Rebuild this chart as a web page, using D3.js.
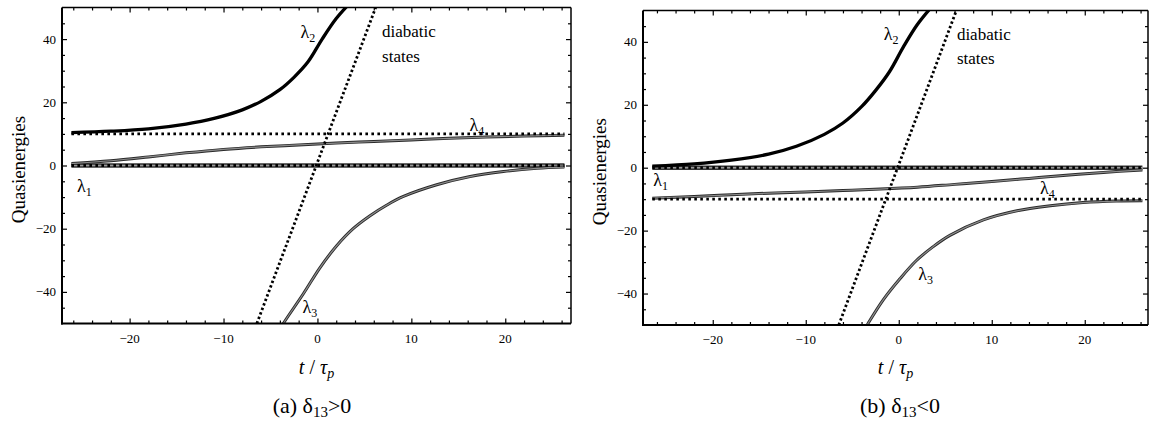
<!DOCTYPE html>
<html><head><meta charset="utf-8">
<script src="https://cdn.jsdelivr.net/npm/d3@7"></script>
</head>
<body style="margin:0">
<svg id="c" width="1154" height="427"></svg>
<script>
// ---------- DATA ----------
const xTicks = [-20, -10, 0, 10, 20];
const xMinor = [-26,-24,-22,-18,-16,-14,-12,-8,-6,-4,-2,2,4,6,8,12,14,16,18,22,24,26];
const yTicks = [-40, -20, 0, 20, 40];
const yMinor = [-45,-35,-30,-25,-15,-10,-5,5,10,15,25,30,35,45];

// Panel (a) delta13 > 0
const a_l2_t = [-26.2, -22, -18, -14, -11, -8, -6, -4, -2.5, -1, 0.5, 2, 3.4];
const a_l2_v = [10.4, 10.85, 11.6, 13.1, 14.9, 17.6, 20.3, 24.0, 27.9, 32.8, 40.0, 46.5, 51.2];
const a_l4_t = [-26.2, -22, -18, -14, -10, -6, -2, 2, 6, 10, 14, 18, 22, 26.3];
const a_l4_v = [0.6, 1.5, 2.7, 4.0, 5.1, 5.9, 6.5, 7.1, 7.6, 8.1, 8.6, 9.0, 9.3, 9.6];
const a_l3_t = [-4.0, -3.63, -1.5, 0.28, 2.05, 3.8, 5.6, 7.4, 9.15, 12.7, 16.25, 19.8, 23.35, 26.3];
const a_l3_v = [-52.0, -50, -40.6, -32.3, -25.4, -20.0, -15.9, -12.5, -9.8, -6.1, -3.5, -1.9, -0.9, -0.5];
const a_l1_t = [-26.2, 26.3];
const a_l1_v = [0, 0];
const a_diabLevels = [0, 10];
const a_tRange = [-26.2, 26.3];

// Panel (b) delta13 < 0
const b_l2_t = [-26.5, -22, -18, -14, -11, -8, -6, -4, -2.5, -1, 0.5, 2, 3.5];
const b_l2_v = [0.5, 1.2, 2.4, 4.3, 6.8, 10.6, 14.2, 19.4, 24.5, 30.5, 38.4, 45.5, 51.0];
const b_l4_t = [-26.5, -22, -18, -14, -10, -6, -2, 2, 6, 10, 14, 18, 22, 26.2];
const b_l4_v = [-9.7, -9.15, -8.6, -8.1, -7.7, -7.25, -6.8, -6.2, -5.3, -4.4, -3.4, -2.4, -1.5, -0.7];
const b_l3_t = [-3.7, -3.3, -1.67, 0.13, 1.9, 3.7, 5.5, 9.1, 12.7, 16.3, 19.8, 23.4, 26.2];
const b_l3_v = [-51.5, -49.5, -42, -35.3, -29.5, -25.1, -21.5, -16.6, -13.7, -12.1, -11.1, -10.6, -10.5];
const b_l1_t = [-26.5, 26.2];
const b_l1_v = [0, 0];
const b_diabLevels = [0, -10];
const b_tRange = [-26.5, 26.2];

// diabatic crossing state (diagonal), same in both panels
const diag_t = [-6.45, 6.2];
const diag_v = [-50, 50];

// Labels: [text, subscript, t, v]
const a_labels = [["λ","2",-1.8,40.4],["diabatic","",6.88,40.7],["states","",6.88,32.8],
                  ["λ","4",16.2,11.0],["λ","1",-25.6,-8.3],["λ","3",-1.6,-46.6]];
const b_labels = [["λ","2",-1.6,40.6],["diabatic","",6.25,40.6],["states","",6.25,33.0],
                  ["λ","1",-26.4,-5.8],["λ","4",15.2,-8.4],["λ","3",2.1,-35.7]];

const captions = [["(a) δ","13",">0"],["(b) δ","13","<0"]];

// ---------- DRAW ----------
const svg = d3.select("#c");
const FF = '"Liberation Serif"';

function zip(t, v){ return t.map((d,i)=>[d, v[i]]); }

function txt(x, y, s, size){
  return svg.append("text").attr("x", x).attr("y", y)
    .style("font-family", FF).style("font-size", size + "px").text(s);
}

function panel(cfg){
  const g = svg.append("g");
  const x = d3.scaleLinear().domain(cfg.xd).range(cfg.xr);
  const y = d3.scaleLinear().domain([-50,50]).range(cfg.yr);
  const id = "clip" + cfg.key;
  svg.append("defs").append("clipPath").attr("id", id)
    .append("rect").attr("x", cfg.xr[0]).attr("y", cfg.yr[1])
    .attr("width", cfg.xr[1]-cfg.xr[0]).attr("height", cfg.yr[0]-cfg.yr[1]);
  const plot = g.append("g").attr("clip-path", `url(#${id})`);
  const line = d3.line().x(d=>x(d[0])).y(d=>y(d[1])).curve(d3.curveCatmullRom.alpha(0.5));
  const straight = d3.line().x(d=>x(d[0])).y(d=>y(d[1]));

  plot.append("path").attr("d", straight(zip(cfg.l1t, cfg.l1v)))
    .attr("fill","none").attr("stroke","#333").attr("stroke-width",4.6);
  plot.append("path").attr("d", straight(zip(cfg.l1t, cfg.l1v)))
    .attr("fill","none").attr("stroke","#999").attr("stroke-width",1.6);
  [[cfg.l3t,cfg.l3v],[cfg.l4t,cfg.l4v]].forEach(([t,v])=>{
    plot.append("path").attr("d", line(zip(t,v)))
      .attr("fill","none").attr("stroke","#2a2a2a").attr("stroke-width",3.0);
    plot.append("path").attr("d", line(zip(t,v)))
      .attr("fill","none").attr("stroke","#8c8c8c").attr("stroke-width",1.2);
  });
  cfg.levels.forEach(lv=>{
    plot.append("path").attr("d", straight([[cfg.tr[0], lv],[cfg.tr[1], lv]]))
      .attr("fill","none").attr("stroke","#000").attr("stroke-width",2.8)
      .attr("stroke-dasharray","2.6,3.4");
  });
  plot.append("path").attr("d", straight(zip(diag_t, diag_v)))
    .attr("fill","none").attr("stroke","#000").attr("stroke-width",2.8)
    .attr("stroke-dasharray","2.4,2.4");
  plot.append("path").attr("d", line(zip(cfg.l2t, cfg.l2v)))
    .attr("fill","none").attr("stroke","#000").attr("stroke-width",3.3);

  const X0 = cfg.xr[0], X1 = cfg.xr[1], Y0 = cfg.yr[0], Y1 = cfg.yr[1];
  const mk = (sel)=>{ sel.select(".domain").remove();
     sel.selectAll("line").attr("stroke","#000").attr("stroke-width",1.2); sel.selectAll("text").remove(); };
  [[d3.axisBottom(x), Y0, xTicks, -5],[d3.axisBottom(x), Y0, xMinor, -3],
   [d3.axisTop(x), Y1, xTicks, -5],[d3.axisTop(x), Y1, xMinor, -3]].forEach(([ax, p, tv, s])=>{
    g.append("g").attr("transform",`translate(0,${p})`).call(ax.tickValues(tv).tickSize(s).tickSizeOuter(0)).call(mk);
  });
  [[d3.axisLeft(y), X0, yTicks, -5],[d3.axisLeft(y), X0, yMinor, -3],
   [d3.axisRight(y), X1, yTicks, -5],[d3.axisRight(y), X1, yMinor, -3]].forEach(([ax, p, tv, s])=>{
    g.append("g").attr("transform",`translate(${p},0)`).call(ax.tickValues(tv).tickSize(s).tickSizeOuter(0)).call(mk);
  });
  const fmt = d3.format("d");
  xTicks.forEach(v=> txt(x(v), Y0 + 19, fmt(v), 13).attr("text-anchor","middle"));
  yTicks.forEach(v=> txt(X0 - 6, y(v) + 4.5, fmt(v), 13).attr("text-anchor","end"));

  g.append("line").attr("x1",X0).attr("x2",X1).attr("y1",Y1).attr("y2",Y1).attr("stroke","#000").attr("stroke-width",1.5);
  g.append("line").attr("x1",X1).attr("x2",X1).attr("y1",Y1).attr("y2",Y0).attr("stroke","#000").attr("stroke-width",1.5);
  g.append("line").attr("x1",X0).attr("x2",X0).attr("y1",Y1).attr("y2",Y0+1).attr("stroke","#000").attr("stroke-width",2);
  g.append("line").attr("x1",X0-1).attr("x2",X1).attr("y1",Y0).attr("y2",Y0).attr("stroke","#000").attr("stroke-width",2);

  cfg.labels.forEach(([s, sub, t, v])=>{
    const tx = txt(x(t), y(v), s, sub ? 18 : 17);
    if(sub) tx.append("tspan").attr("dy", 4).style("font-size","12px").text(sub);
  });

  const ymid = (Y0+Y1)/2;
  txt(0, 0, "Quasienergies", 19).attr("x", null).attr("y", null)
    .attr("transform",`translate(${cfg.ytx},${ymid+4}) rotate(-90)`).attr("text-anchor","middle");
  const xt = txt((X0+X1)/2, 374, "", 20).attr("text-anchor","middle");
  xt.append("tspan").style("font-style","italic").text("t");
  xt.append("tspan").text(" / ");
  xt.append("tspan").style("font-style","italic").text("τ");
  xt.append("tspan").style("font-style","italic").attr("dy",4).style("font-size","14px").text("p");

  const c = txt(cfg.capx, 413, "", 22).attr("text-anchor","middle");
  c.append("tspan").text(cfg.cap[0]);
  c.append("tspan").attr("dy",4).style("font-size","15px").text(cfg.cap[1]);
  c.append("tspan").attr("dy",-4).text(cfg.cap[2]);
}

panel({key:"a", xd:[-27.2,27.0], xr:[62,571], yr:[323.5,7.5],
  l2t:a_l2_t,l2v:a_l2_v,l3t:a_l3_t,l3v:a_l3_v,l4t:a_l4_t,l4v:a_l4_v,l1t:a_l1_t,l1v:a_l1_v,
  levels:a_diabLevels,tr:a_tRange,labels:a_labels,cap:captions[0],capx:312,ytx:25});
panel({key:"b", xd:[-27.5,26.8], xr:[643,1148], yr:[325,10.4],
  l2t:b_l2_t,l2v:b_l2_v,l3t:b_l3_t,l3v:b_l3_v,l4t:b_l4_t,l4v:b_l4_v,l1t:b_l1_t,l1v:b_l1_v,
  levels:b_diabLevels,tr:b_tRange,labels:b_labels,cap:captions[1],capx:900,ytx:606});
</script>
</body></html>
